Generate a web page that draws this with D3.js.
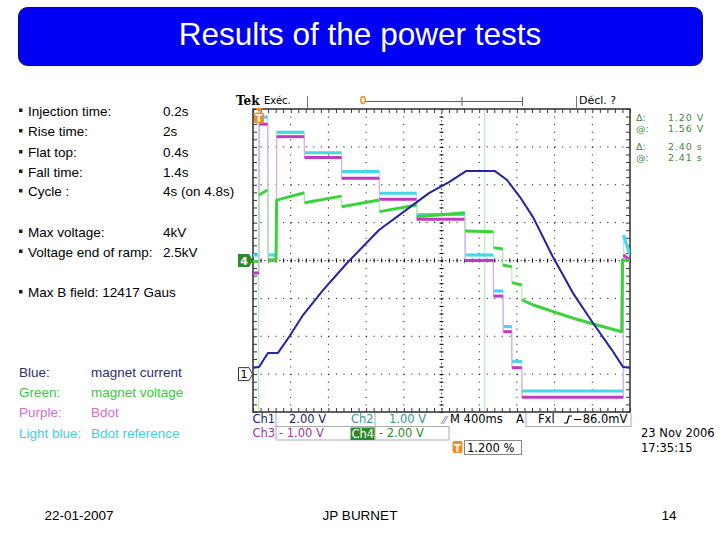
<!DOCTYPE html>
<html><head><meta charset="utf-8">
<script src="https://cdn.jsdelivr.net/npm/d3@7"></script>
<style>body{margin:0;background:#fff}svg{display:block}</style>
</head><body>
<svg id="c" width="720" height="540"></svg>
<script>
// ---------- data ----------
const title = "Results of the power tests";
const infoLabels = ["Injection time:", "Rise time:", "Flat top:", "Fall time:", "Cycle :"];
const infoValues = ["0.2s", "2s", "0.4s", "1.4s", "4s (on 4.8s)"];
const voltLabels = ["Max voltage:", "Voltage end of ramp:"];
const voltValues = ["4kV", "2.5kV"];
const fieldNote = "Max B field: 12417 Gaus";
const legendKeys = ["Blue:", "Green:", "Purple:", "Light blue:"];
const legendNames = ["magnet current", "magnet voltage", "Bdot", "Bdot reference"];
const footerTexts = ["22-01-2007", "JP BURNET", "14"];

// scope traces: [time (s) from left of screen, volts]
const magnetCurrent = [ // Ch1 (blue)
  [0,0.33],[0.064,0.38],[0.159,1.12],[0.265,1.12],[0.382,1.96],[0.531,3.12],[0.743,4.44],
  [1.008,5.92],[1.337,7.61],[1.623,8.66],[1.867,9.56],[2.080,10.14],[2.260,10.72],[2.568,10.72],
  [2.695,10.25],[2.833,9.35],[2.971,8.29],[3.183,6.18],[3.395,4.28],[3.607,2.70],[3.809,1.27],
  [3.926,0.38],[4.0,0.33]];
const magnetVoltage = [ // Ch4 (green)
  [0,-0.05],[0.058,-0.05],[0.064,3.46],[0.154,3.72],[0.159,0.03],[0.244,0.03],[0.251,3.19],
  [0.544,3.58],[0.546,3.05],[0.939,3.40],[0.941,2.84],[1.340,3.19],[1.342,2.58],[1.735,2.93],
  [1.737,2.31],[2.249,2.52],[2.251,1.56],[2.550,1.52],[2.552,0.68],[2.649,0.61],[2.651,-0.24],
  [2.745,-0.33],[2.747,-1.17],[2.851,-1.29],[2.853,-2.08],[2.974,-2.35],[3.186,-2.70],
  [3.398,-3.05],[3.611,-3.35],[3.912,-3.76],[3.920,0.03],[4.0,0]];
const bdot = [ // Ch3 (purple)
  [0,-0.33],[0.064,-0.33],[0.067,3.60],[0.156,3.60],[0.161,0.01],[0.249,0.01],[0.251,3.27],
  [0.544,3.27],[0.546,2.72],[0.939,2.72],[0.941,2.17],[1.340,2.17],[1.342,1.62],[1.735,1.62],
  [1.737,1.09],[2.249,1.09],[2.251,0],[2.550,0],[2.552,-0.94],[2.653,-0.94],[2.655,-1.88],
  [2.745,-1.88],[2.747,-2.83],[2.851,-2.83],[2.853,-3.61],[3.929,-3.61],[3.931,0.15],[4.0,0]];
const bdotRef = [ // Ch2 (light blue)
  [0,0],[0.064,0],[0.067,3.64],[0.156,3.64],[0.161,0],[0.249,0],[0.251,3.24],[0.544,3.24],
  [0.546,2.70],[0.939,2.70],[0.941,2.20],[1.340,2.20],[1.342,1.63],[1.735,1.63],[1.737,1.07],
  [2.249,1.07],[2.251,0],[2.550,0],[2.552,-0.95],[2.653,-0.95],[2.655,-1.89],[2.745,-1.89],
  [2.747,-2.81],[2.851,-2.81],[2.853,-3.59],[3.929,-3.59],[3.931,0.53],[3.96,0.3],[4.0,0]];
const cursorTimes = [0.058, 2.458];
const cursorReadLabels = ["Δ:", "@:", "Δ:", "@:"];
const cursorReadValues = ["1.20 V", "1.56 V", "2.40 s", "2.41 s"];

// ---------- drawing ----------
const svg = d3.select("#c");
const FONT = "'Liberation Sans', Arial, sans-serif";
const SFONT = "'DejaVu Sans', sans-serif";

// title banner
svg.append("rect").attr("x",18.5).attr("y",7.5).attr("width",684).attr("height",58)
  .attr("rx",9).attr("fill","#0000f5").attr("stroke","#101040").attr("stroke-width",1);
svg.append("text").attr("x",360).attr("y",45).attr("text-anchor","middle")
  .attr("font-family",FONT).attr("font-size",31.5).attr("fill","#fff").text(title);

// left text block
const txt = (x,y,s,color,size) => svg.append("text").attr("x",x).attr("y",y)
  .attr("font-family",FONT).attr("font-size",size||13.5).attr("fill",color||"#000").text(s);
const bullet = (y) => svg.append("rect").attr("x",19).attr("y",y-7).attr("width",3.5).attr("height",3.5).attr("fill","#222");
const infoY = [115.5, 136, 157, 176.5, 196];
infoLabels.forEach((s,i)=>{ bullet(infoY[i]); txt(28,infoY[i],s); txt(163,infoY[i],infoValues[i]); });
const voltY = [236.5, 256.5];
voltLabels.forEach((s,i)=>{ bullet(voltY[i]); txt(28,voltY[i],s); txt(163,voltY[i],voltValues[i]); });
bullet(297); txt(28,297,fieldNote);
const legY = [377, 397, 417, 438];
const legColors = ["#2e2e70", "#3cc83c", "#d070d0", "#40d0e0"];
legendKeys.forEach((s,i)=>{ txt(19,legY[i],s,legColors[i]); txt(91,legY[i],legendNames[i],legColors[i]); });

// footer
svg.append("text").attr("x",79).attr("y",520).attr("text-anchor","middle").attr("font-family",FONT).attr("font-size",13.5).text(footerTexts[0]);
svg.append("text").attr("x",360).attr("y",520).attr("text-anchor","middle").attr("font-family",FONT).attr("font-size",13.5).text(footerTexts[1]);
svg.append("text").attr("x",669).attr("y",520).attr("text-anchor","middle").attr("font-family",FONT).attr("font-size",13.5).text(footerTexts[2]);

// scope graticule
const X0=253, X1=630, Y0=109, Y1=412;
const x = d3.scaleLinear().domain([0,4]).range([X0,X1]);
const div = d3.scaleLinear().domain([-4,4]).range([Y1,Y0]);
const g = svg.append("g");
const minorX = d3.range(0,4.0001,0.08), minorY = d3.range(-4,4.0001,0.2);

// dotted grid
d3.range(1,10).filter(k=>k!==5).forEach(k=>{
  g.append("line").attr("x1",x(k*0.4)).attr("x2",x(k*0.4)).attr("y1",Y0).attr("y2",Y1)
   .attr("stroke","#000").attr("stroke-width",1).attr("stroke-dasharray","1,6.575");
});
d3.range(-3,4).filter(k=>k!==0).forEach(k=>{
  g.append("line").attr("x1",X0).attr("x2",X1).attr("y1",div(k)).attr("y2",div(k))
   .attr("stroke","#000").attr("stroke-width",1).attr("stroke-dasharray","1,6.54");
});
// center cross lines with ticks
g.append("line").attr("x1",x(2)).attr("x2",x(2)).attr("y1",Y0).attr("y2",Y1).attr("stroke","#000").attr("stroke-dasharray","1,2.79");
g.append("line").attr("x1",X0).attr("x2",X1).attr("y1",div(0)).attr("y2",div(0)).attr("stroke","#000").attr("stroke-dasharray","1,2.77");
g.append("g").attr("transform",`translate(0,${div(0)+2})`)
  .call(d3.axisBottom(x).tickValues(minorX).tickSize(-4).tickFormat("")).call(a=>a.select(".domain").remove())
  .selectAll("line").attr("stroke","#000");
g.append("g").attr("transform",`translate(${x(2)-2},0)`)
  .call(d3.axisRight(div).tickValues(minorY).tickSize(4).tickFormat("")).call(a=>a.select(".domain").remove())
  .selectAll("line").attr("stroke","#000");
// border ticks
[[d3.axisBottom, Y0, 4],[d3.axisTop, Y1, 4]].forEach(([ax,yy,s])=>{
  g.append("g").attr("transform",`translate(0,${yy})`).call(ax(x).tickValues(minorX).tickSize(s).tickFormat(""))
   .call(a=>a.select(".domain").remove()).selectAll("line").attr("stroke","#333");
});
[[d3.axisRight, X0],[d3.axisLeft, X1]].forEach(([ax,xx])=>{
  g.append("g").attr("transform",`translate(${xx},0)`).call(ax(div).tickValues(minorY).tickSize(4).tickFormat(""))
   .call(a=>a.select(".domain").remove()).selectAll("line").attr("stroke","#333");
});
g.append("rect").attr("x",X0).attr("y",Y0).attr("width",X1-X0).attr("height",Y1-Y0)
  .attr("fill","none").attr("stroke","#3a3a3a").attr("stroke-width",1.6);

// cursors
cursorTimes.forEach(t=>{
  g.append("line").attr("x1",x(t)).attr("x2",x(t)).attr("y1",Y0+1).attr("y2",Y1-1)
   .attr("stroke","#b4efb4").attr("stroke-width",1.2);
});

// traces
svg.append("clipPath").attr("id","clip").append("rect").attr("x",X0).attr("y",Y0-2).attr("width",X1-X0).attr("height",Y1-Y0+4);
const chScale = (vpd,pos) => d3.scaleLinear().domain([(-4-pos)*vpd,(4-pos)*vpd]).range([Y1,Y0]);
const traces = [
  {data: bdotRef, y: chScale(1,0.145), color:"#45d8e6", faint:"#a8eef4", w:3.2},
  {data: bdot, y: chScale(1,0), color:"#c23ac4", faint:"#e0a8e2", w:3},
  {data: magnetVoltage, y: chScale(2,0), color:"#3bd23b", faint:"#b0ecb0", w:3},
  {data: magnetCurrent, y: chScale(2,-3), color:"#2626a0", faint:"#8080d0", w:2},
];
const tg = svg.append("g").attr("clip-path","url(#clip)");
traces.forEach(tr=>{
  const line = d3.line().x(d=>x(d[0])).y(d=>tr.y(d[1]));
  tg.append("path").attr("d",line(tr.data)).attr("fill","none").attr("stroke",tr.faint).attr("stroke-width",1.2);
  let run=[tr.data[0]];
  const runs=[];
  for(let i=1;i<tr.data.length;i++){
    if(tr.data[i][0]-tr.data[i-1][0] > 0.006){ run.push(tr.data[i]); }
    else { if(run.length>1) runs.push(run); run=[tr.data[i]]; }
  }
  if(run.length>1) runs.push(run);
  runs.forEach(r=>{
    tg.append("path").attr("d",line(r)).attr("fill","none").attr("stroke",tr.color)
      .attr("stroke-width",tr.w).attr("stroke-linejoin","round");
  });
});

// channel markers
const mk = svg.append("g");
mk.append("path").attr("d",`M238,254 H249 L253,${div(0)} L249,267 H238 Z`).attr("fill","#2a8a2a");
mk.append("text").attr("x",244).attr("y",265).attr("text-anchor","middle").attr("font-family",SFONT).attr("font-size",11).attr("font-weight","bold").attr("fill","#fff").text("4");
const g1 = chScale(2,-3)(0);
mk.append("path").attr("d",`M238.5,${g1-6.5} H249 L252.5,${g1} L249,${g1+6.5} H238.5 Z`).attr("fill","#fff").attr("stroke","#333");
mk.append("text").attr("x",244).attr("y",g1+4).attr("text-anchor","middle").attr("font-family",SFONT).attr("font-size",11).attr("fill","#000").text("1");
// trigger marker
mk.append("path").attr("d","M255,108 H263 L259,112 Z").attr("fill","#e8902a");
mk.append("rect").attr("x",254).attr("y",112.5).attr("width",10).attr("height",11).attr("rx",2).attr("fill","#e8902a");
mk.append("text").attr("x",259).attr("y",121.5).attr("text-anchor","middle").attr("font-family",SFONT).attr("font-size",10).attr("font-weight","bold").attr("fill","#fff").text("T");

// header bar
const stxt = (x0,y0,s,color,size,extra) => { const t = svg.append("text").attr("x",x0).attr("y",y0)
  .attr("font-family",SFONT).attr("font-size",size||11).attr("fill",color||"#000").text(s); if(extra) extra(t); return t; };
stxt(236,105,"Tek","#000",12,t=>t.attr("font-family","'DejaVu Serif', serif").attr("font-weight","bold"));
stxt(264,104,"Exéc.","#000",10);
svg.append("line").attr("x1",307.5).attr("x2",307.5).attr("y1",96).attr("y2",108).attr("stroke","#777");
svg.append("line").attr("x1",576.5).attr("x2",576.5).attr("y1",96).attr("y2",108).attr("stroke","#777");
svg.append("line").attr("x1",365).attr("x2",522.5).attr("y1",101.5).attr("y2",101.5).attr("stroke","#3a7a3a");
[462,522.5].forEach(xx=>svg.append("line").attr("x1",xx).attr("x2",xx).attr("y1",97).attr("y2",106).attr("stroke","#3a7a3a"));
svg.append("ellipse").attr("cx",363).attr("cy",100).attr("rx",2.2).attr("ry",3.5).attr("fill","none").attr("stroke","#e8902a").attr("stroke-width",1.4);
stxt(579,104,"Décl. ?","#000",11);

// cursor readouts
const rdY = [120.5, 131.5, 149.5, 160.5];
cursorReadLabels.forEach((s,i)=>{
  stxt(636,rdY[i],s,"#3a8c3a",9.5);
  stxt(668,rdY[i],cursorReadValues[i],"#3a8c3a",9.5,t=>t.attr("letter-spacing",0.9));
});

// bottom readouts
const boxLine = (x1,y1,x2,y2)=>svg.append("line").attr("x1",x1).attr("y1",y1).attr("x2",x2).attr("y2",y2).attr("stroke","#aaa");
boxLine(276,413,276,440); boxLine(375,413,375,440); boxLine(276,426.5,449,426.5); boxLine(276,440,449,440); boxLine(449,427,449,440);
boxLine(526,413,526,427); boxLine(526,426.5,631,426.5); boxLine(631,413,631,427);
stxt(252.5,423,"Ch1","#22226e",11.5); stxt(289,423,"2.00 V","#22226e",11.5);
stxt(351,423,"Ch2","#3a9494",11.5); stxt(389,423,"1.00 V","#3a9494",11.5);
svg.append("path").attr("d","M441,424 L446,416 M443,424 L448,416").attr("stroke","#6a6aa0").attr("fill","none").attr("stroke-width",0.8);
stxt(450,423,"M 400ms","#000",11.5);
stxt(516,423,"A","#000",11.5);
stxt(538,423,"Fxl","#000",11.5);
svg.append("path").attr("d","M564,423 H567 L569,416 H572").attr("stroke","#000").attr("fill","none").attr("stroke-width",1.2);
stxt(573,423,"−86.0mV","#000",11.5);
stxt(252.5,437,"Ch3","#9a3a9a",11.5); stxt(279,437,"- 1.00 V","#9a3a9a",11.5);
svg.append("rect").attr("x",350.5).attr("y",427.5).attr("width",24).attr("height",12.5).attr("fill","#2a8a2a");
stxt(351.5,437.5,"Ch4","#fff",11.5);
stxt(379,437,"- 2.00 V","#2a8a2a",11.5);
svg.append("rect").attr("x",452.5).attr("y",441).attr("width",10).attr("height",12).attr("rx",2).attr("fill","#e8902a");
stxt(457.5,451.5,"T","#fff",10,t=>t.attr("text-anchor","middle").attr("font-weight","bold"));
svg.append("rect").attr("x",464.5).attr("y",440.5).attr("width",57).attr("height",14).attr("fill","none").attr("stroke","#888");
stxt(467,452,"1.200 %","#000",11.5);
stxt(641,437,"23 Nov 2006","#000",11.5);
stxt(641,452,"17:35:15","#000",11.5);
</script>
</body></html>
